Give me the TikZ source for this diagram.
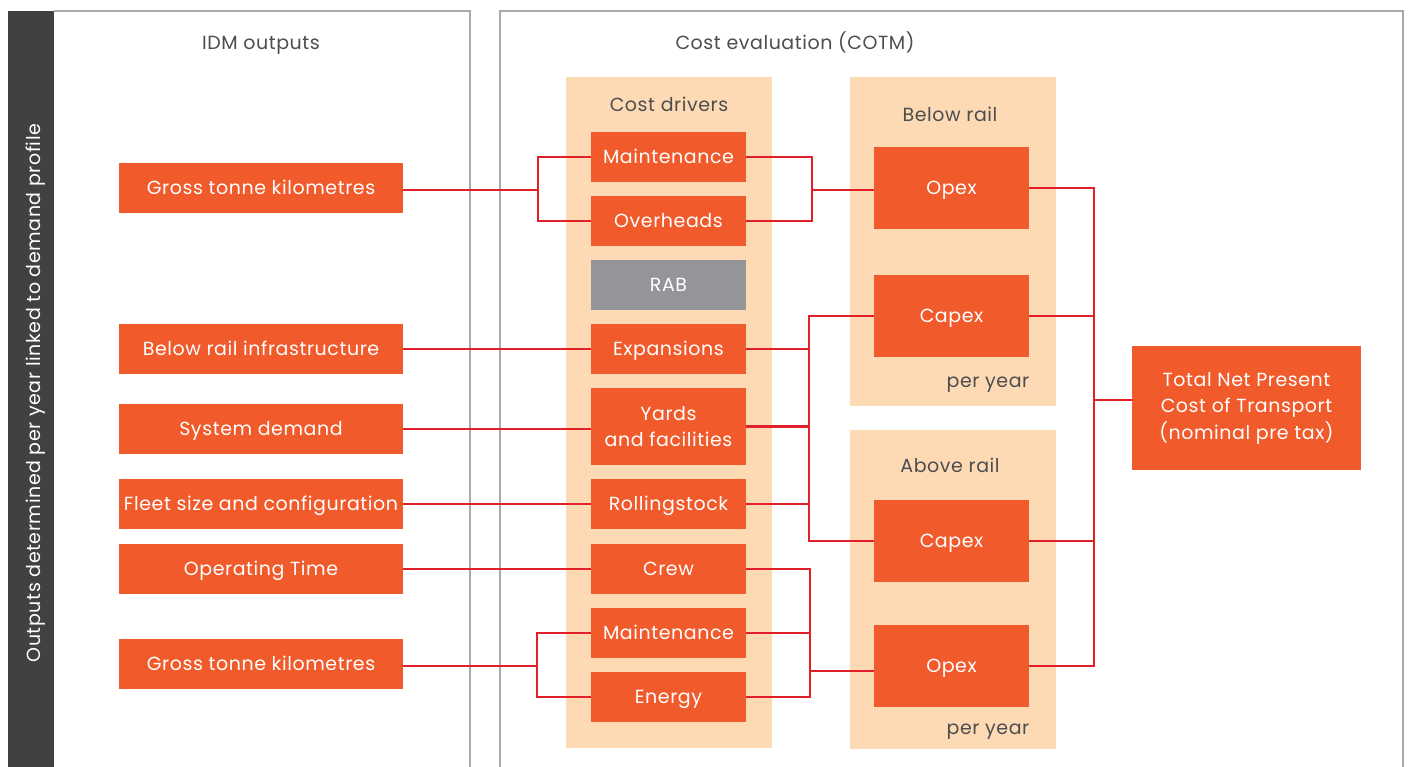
\documentclass[tikz,border=0pt]{standalone}
\usepackage{fontspec}
\setmainfont{Poppins}[LetterSpace=3]
\definecolor{barDark}{HTML}{414042}
\definecolor{panelLine}{HTML}{A7A9AC}
\definecolor{boxOrange}{HTML}{F15A2B}
\definecolor{peach}{HTML}{FDDAB4}
\definecolor{rabGrey}{HTML}{939598}
\definecolor{linkRed}{HTML}{E1202A}
\definecolor{titleGrey}{HTML}{4D4D4F}
\tikzset{
  obox/.style={fill=boxOrange, text=white, inner sep=0pt, align=center,
    font=\fontsize{19}{26.5}\selectfont, text height=13.2pt, text depth=0pt},
  mbox/.style={obox, text height={}, text depth={}},
  gbox/.style={obox, fill=rabGrey},
  ttl/.style={text=titleGrey, inner sep=0pt, anchor=base, font=\fontsize{19}{22}\selectfont},
  link/.style={draw=linkRed, line width=2.2pt},
  panel/.style={draw=panelLine, line width=1.3pt}
}
\begin{document}
\begin{tikzpicture}[x=1pt,y=-1pt]
\useasboundingbox (0,0) rectangle (1410,767);
\fill[white] (0,0) rectangle (1410,767);

% side bar with rotated caption
\fill[barDark] (8,11) rectangle (54,767);
\node[rotate=90, text=white, inner sep=0pt, anchor=base, font=\fontsize{19}{22}\selectfont] (side) at (40,393)
  {Outputs determined per year linked to demand profile};

% panel frames (open at the bottom)
\draw[panel] (54,11) -- (470,11) -- (470,767);
\draw[panel] (500,767) -- (500,11) -- (1403,11) -- (1403,767);
\node[ttl] (idmT) at (261,50) {IDM outputs};
\node[ttl] (cotmT) at (795,50) {Cost evaluation (COTM)};

% shaded groups
\fill[peach] (566,77) rectangle (772,748);
\fill[peach] (850,77) rectangle (1056,406);
\fill[peach] (850,430) rectangle (1056,749);
\node[ttl] (cdT) at (669,112) {Cost drivers};
\node[ttl] (brT) at (950,122) {Below rail};
\node[ttl] (brY) at (988,387) {per year};
\node[ttl] (arT) at (950,472) {Above rail};
\node[ttl] (arY) at (988,734) {per year};

% IDM outputs
\begin{scope}[every node/.append style={minimum width=284pt, minimum height=50pt}]
\node[obox] (gtk1) at (261,188) {Gross tonne kilometres};
\node[obox] (bri) at (261,349) {Below rail infrastructure};
\node[obox] (sysd) at (261,429) {System demand};
\node[obox] (fleet) at (261,504) {Fleet size and configuration};
\node[obox] (optime) at (261,569) {Operating Time};
\node[obox] (gtk2) at (261,664) {Gross tonne kilometres};
\end{scope}

% cost drivers
\begin{scope}[every node/.append style={minimum width=155pt, minimum height=50pt}]
\node[obox] (mnt1) at (668.5,157) {Maintenance};
\node[obox] (ovh) at (668.5,221) {Overheads};
\node[gbox] (rab) at (668.5,285) {RAB};
\node[obox] (exp) at (668.5,349) {Expansions};
\node[mbox, minimum height=77pt] (yards) at (668.5,426.5) {Yards\\and facilities};
\node[obox] (rstock) at (668.5,504) {Rollingstock};
\node[obox] (crew) at (668.5,569) {Crew};
\node[obox] (mnt2) at (668.5,633) {Maintenance};
\node[obox] (energy) at (668.5,697) {Energy};
\end{scope}

% cost categories
\begin{scope}[every node/.append style={minimum width=155pt, minimum height=82pt}]
\node[obox] (opex1) at (951.5,188) {Opex};
\node[obox] (capex1) at (951.5,316) {Capex};
\node[obox] (capex2) at (951.5,541) {Capex};
\node[obox] (opex2) at (951.5,666) {Opex};
\end{scope}

\node[mbox, minimum width=229pt, minimum height=124pt] (total) at (1246.5,408)
  {Total Net Present\\Cost of Transport\\(nominal pre tax)};

% bus positions
\coordinate (j1) at (538,190);
\coordinate (j2) at (812,190);
\coordinate (j3) at (537,666);
\coordinate (kc) at (809,0);
\coordinate (ko) at (810,671);
\coordinate (kt) at (1094,400);

% IDM outputs to cost drivers
\draw[link] (gtk1.east |- j1) -- (j1);
\draw[link] (mnt1.west) -| (j1) |- (ovh.west);
\draw[link] (bri.east) -- (exp.west);
\draw[link] (sysd.east) -- (sysd.east -| yards.west);
\draw[link] (fleet.east) -- (rstock.west);
\draw[link] (optime.east) -- (crew.west);
\draw[link] (gtk2.east |- j3) -- (j3);
\draw[link] (mnt2.west) -| (j3) |- (energy.west);

% cost drivers to below rail opex
\draw[link] (mnt1.east) -| (j2) |- (ovh.east);
\draw[link] (j2) -- (j2 -| opex1.west);

% cost drivers to capex
\draw[link] (capex1.west) -- (capex1.west -| kc) -- (capex2.west -| kc) -- (capex2.west);
\draw[link] (exp.east) -- (exp.east -| kc);
\draw[link] (yards.east) -- (yards.east -| kc);
\draw[link] (rstock.east) -- (rstock.east -| kc);

% cost drivers to above rail opex
\draw[link] (crew.east) -| (ko) |- (energy.east);
\draw[link] (mnt2.east) -- (mnt2.east -| ko);
\draw[link] (ko) -- (ko -| opex2.west);

% categories to total
\draw[link] (opex1.east) -| (kt) |- (opex2.east);
\draw[link] (capex1.east) -- (capex1.east -| kt);
\draw[link] (capex2.east) -- (capex2.east -| kt);
\draw[link] (kt) -- (kt -| total.west);
\end{tikzpicture}
\end{document}
